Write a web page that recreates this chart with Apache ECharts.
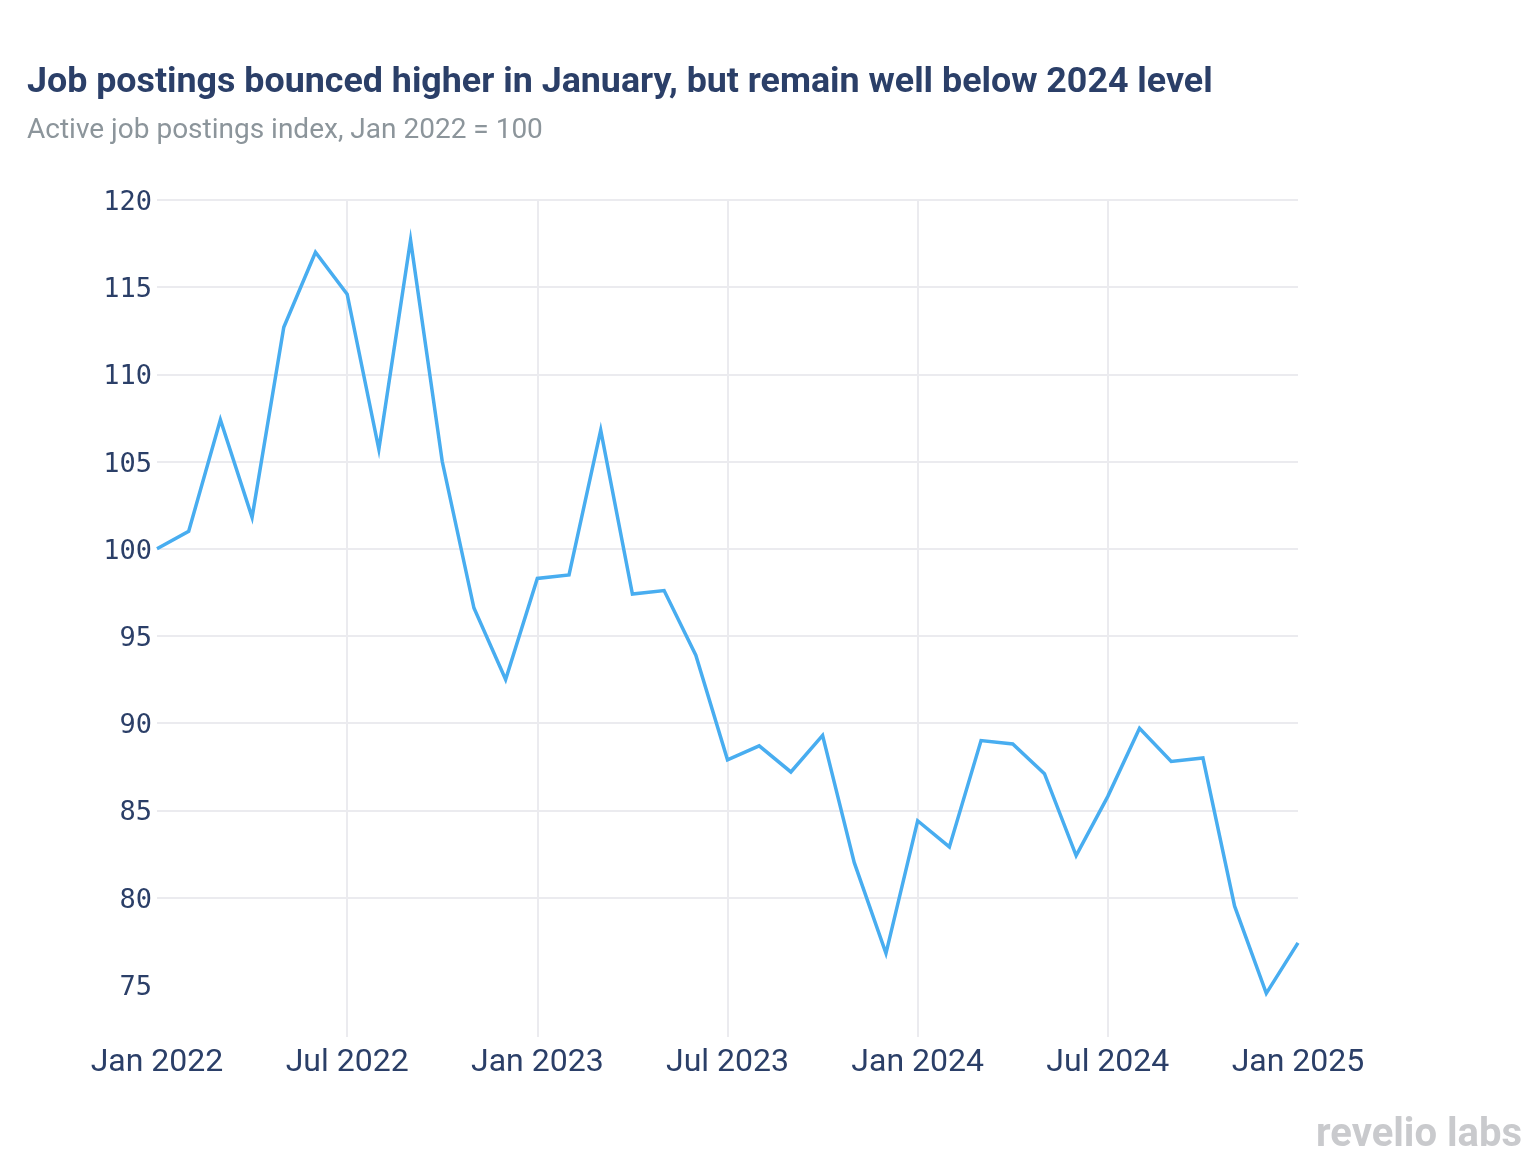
<!DOCTYPE html>
<html>
<head>
<meta charset="utf-8">
<script src="https://cdn.jsdelivr.net/npm/echarts@6/dist/echarts.min.js"></script>
<style>
  html, body { margin: 0; padding: 0; background: #ffffff; }
  #chart { width: 1530px; height: 1174px; }
</style>
</head>
<body>
<div id="chart"></div>
<script>
const months = [
  'Jan 2022','Feb 2022','Mar 2022','Apr 2022','May 2022','Jun 2022','Jul 2022','Aug 2022','Sep 2022','Oct 2022','Nov 2022','Dec 2022',
  'Jan 2023','Feb 2023','Mar 2023','Apr 2023','May 2023','Jun 2023','Jul 2023','Aug 2023','Sep 2023','Oct 2023','Nov 2023','Dec 2023',
  'Jan 2024','Feb 2024','Mar 2024','Apr 2024','May 2024','Jun 2024','Jul 2024','Aug 2024','Sep 2024','Oct 2024','Nov 2024','Dec 2024',
  'Jan 2025'
];
const postingsIndex = [
  100.0, 101.0, 107.4, 101.8, 112.7, 117.0, 114.6, 105.7, 117.7, 105.0, 96.6, 92.5,
  98.3, 98.5, 106.8, 97.4, 97.6, 93.9, 87.9, 88.7, 87.2, 89.3, 82.0, 76.8,
  84.4, 82.9, 89.0, 88.8, 87.1, 82.4, 85.8, 89.7, 87.8, 88.0, 79.5, 74.5,
  77.4
];
const yTicks = [75, 80, 85, 90, 95, 100, 105, 110, 115, 120];
const titleText = 'Job postings bounced higher in January, but remain well below 2024 level';
const subtitleText = 'Active job postings index, Jan 2022 = 100';
const brandText = 'revelio labs';

const navy = '#2b3f68';
const gridColor = '#ebebef';

const chart = echarts.init(document.getElementById('chart'), null, { renderer: 'canvas' });
chart.setOption({
  animation: false,
  backgroundColor: '#ffffff',
  title: {
    text: titleText,
    subtext: subtitleText,
    left: 27,
    top: 65,
    padding: 0,
    itemGap: 16,
    textStyle: { fontFamily: 'Roboto', fontWeight: 'bold', fontSize: 35.8, color: navy },
    subtextStyle: { fontFamily: 'Roboto', fontSize: 28, color: '#8c959b' }
  },
  graphic: [{
    type: 'text',
    right: 8,
    top: 1116,
    style: { text: brandText, fontFamily: 'Roboto', fontWeight: 'bold', fontSize: 40, fill: '#c9cacd' }
  }],
  grid: { left: 157, right: 232, top: 200, bottom: 137, containLabel: false },
  xAxis: {
    type: 'category',
    data: months,
    boundaryGap: false,
    axisLine: { show: false },
    axisTick: { show: false, interval: 5 },
    axisLabel: {
      interval: 5,
      margin: 10,
      fontFamily: 'Roboto',
      fontSize: 32,
      color: navy
    },
    splitLine: {
      show: true,
      interval: 5,
      showMinLine: false,
      showMaxLine: false,
      lineStyle: { color: gridColor, width: 2 }
    }
  },
  yAxis: {
    type: 'value',
    min: 72,
    max: 120,
    axisLine: { show: false },
    axisTick: { show: false, customValues: yTicks },
    axisLabel: {
      customValues: yTicks,
      margin: 5,
      formatter: '{v|{value}}',
      rich: {
        v: {
          fontFamily: 'DejaVu Sans Mono',
          fontSize: 27,
          color: navy,
          padding: [6, 0, 0, 0]
        }
      }
    },
    splitLine: {
      show: true,
      showMinLine: false,
      lineStyle: { color: gridColor, width: 2 }
    }
  },
  series: [{
    type: 'line',
    data: postingsIndex,
    showSymbol: false,
    symbol: 'none',
    smooth: false,
    lineStyle: { color: '#48adf0', width: 3.5, join: 'miter' }
  }]
});
</script>
</body>
</html>
